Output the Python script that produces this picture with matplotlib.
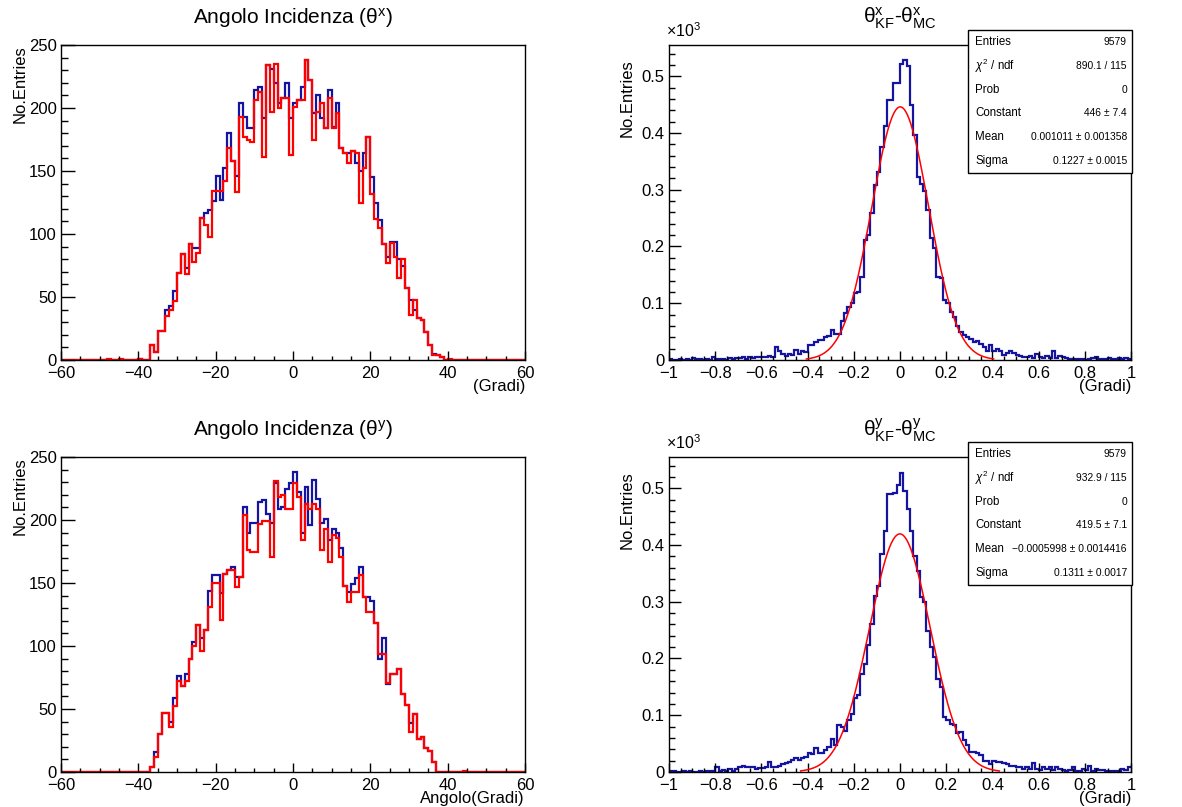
import numpy as np
import matplotlib
matplotlib.use("Agg")
import matplotlib.pyplot as plt
from matplotlib.patches import Rectangle
from matplotlib.ticker import MultipleLocator, FuncFormatter

plt.rcParams["font.family"] = ["Liberation Sans", "DejaVu Sans"]
plt.rcParams["mathtext.fontset"] = "custom"
plt.rcParams["mathtext.rm"] = "Liberation Sans"
plt.rcParams["mathtext.it"] = "Liberation Sans:italic"
plt.rcParams["mathtext.bf"] = "Liberation Sans:bold"

# ---- angle histograms: 1 degree bins, counts listed from -40 to 39 ----
ang_edges = np.arange(-60, 61, 1)
ang_first = -40

thx_mc = [1, 0, 0, 12, 6, 23, 23, 40, 43, 55,
          69, 84, 73, 92, 89, 89, 113, 117, 119, 126,
          146, 127, 152, 180, 158, 146, 204, 193, 184, 184,
          214, 217, 192, 234, 231, 220, 204, 208, 220, 192,
          204, 206, 217, 238, 222, 196, 210, 192, 184, 214,
          185, 204, 168, 164, 164, 166, 156, 150, 164, 177,
          145, 125, 111, 92, 82, 94, 94, 80, 75, 57,
          48, 40, 33, 32, 22, 12, 5, 4, 2, 0]
thx_kf = [1, 0, 0, 12, 6, 23, 23, 35, 40, 47,
          69, 84, 68, 92, 78, 85, 113, 107, 98, 134,
          134, 134, 142, 168, 158, 133, 193, 177, 175, 173,
          206, 213, 161, 234, 197, 235, 200, 208, 208, 163,
          201, 206, 206, 238, 222, 175, 197, 204, 184, 208,
          184, 196, 168, 164, 156, 166, 164, 125, 152, 177,
          132, 112, 105, 92, 77, 93, 82, 65, 80, 57,
          36, 48, 33, 32, 22, 12, 4, 4, 2, 0]
thx_kf_extra = {-48: 1, -45: 1, 40: 1}

thy_mc = [0, 0, 0, 4, 16, 30, 47, 47, 40, 59,
          76, 68, 78, 90, 103, 117, 106, 113, 144, 156,
          156, 142, 157, 160, 163, 155, 155, 210, 190, 198,
          198, 214, 216, 205, 198, 229, 209, 210, 225, 229,
          238, 222, 190, 226, 196, 232, 217, 198, 201, 184,
          193, 190, 178, 148, 143, 149, 154, 163, 139, 139,
          136, 118, 90, 106, 70, 78, 78, 82, 62, 53,
          39, 46, 26, 28, 19, 17, 8, 0, 0, 0]
thy_kf = [0, 0, 0, 4, 12, 30, 47, 47, 36, 52,
          72, 68, 72, 90, 100, 117, 96, 113, 131, 150,
          150, 121, 157, 160, 160, 147, 155, 204, 176, 175,
          175, 197, 199, 199, 171, 231, 218, 220, 209, 209,
          229, 218, 184, 213, 209, 213, 209, 176, 193, 167,
          188, 186, 171, 148, 135, 143, 143, 156, 139, 127,
          127, 118, 94, 94, 71, 78, 78, 82, 62, 53,
          32, 46, 26, 28, 19, 17, 8, 0, 0, 0]
thy_kf_extra = {44: 1}

# ---- residual histograms: 140 bins from -1 to 1 ----
res_edges = np.linspace(-1, 1, 141)
dthx = [1, 0, 0, 1, 0, 1, 0, 3, 1, 2,
        0, 1, 0, 5, 1, 2, 1, 0, 4, 2,
        4, 4, 6, 2, 5, 3, 6, 5, 6, 6,
        7, 6, 23, 16, 10, 7, 10, 9, 18, 11,
        15, 14, 26, 26, 32, 35, 36, 41, 43, 53,
        45, 45, 68, 82, 94, 100, 118, 120, 147, 212,
        220, 259, 309, 332, 376, 413, 458, 458, 488, 488,
        522, 528, 518, 450, 397, 323, 310, 297, 265, 215,
        197, 147, 145, 106, 100, 85, 75, 60, 50, 44,
        40, 37, 32, 33, 29, 23, 15, 26, 15, 20,
        15, 9, 12, 15, 12, 9, 7, 5, 5, 7,
        3, 10, 5, 3, 7, 3, 15, 3, 7, 5,
        3, 1, 1, 2, 1, 1, 0, 1, 3, 5,
        1, 1, 2, 4, 1, 1, 3, 1, 4, 1]
dthy = [1, 1, 0, 0, 1, 0, 1, 0, 0, 1,
        0, 2, 1, 1, 8, 2, 3, 2, 5, 2,
        5, 9, 10, 8, 8, 8, 6, 7, 7, 8,
        18, 8, 8, 10, 14, 16, 18, 21, 24, 21,
        24, 27, 33, 32, 42, 33, 33, 38, 44, 58,
        48, 82, 80, 72, 92, 102, 130, 135, 173, 191,
        223, 261, 310, 328, 384, 425, 489, 489, 492, 506,
        527, 495, 463, 425, 381, 354, 308, 300, 249, 220,
        202, 164, 150, 97, 91, 85, 82, 68, 70, 56,
        47, 36, 35, 33, 30, 20, 20, 14, 20, 18,
        17, 16, 14, 10, 10, 8, 8, 6, 8, 6,
        16, 6, 3, 8, 6, 8, 4, 8, 6, 4,
        2, 3, 8, 2, 2, 6, 3, 10, 2, 6,
        3, 4, 2, 2, 2, 2, 2, 5, 4, 9]

# gaussian fit results (Constant, Mean, Sigma) and fit range
fit_x = (446.0, 0.001011, 0.1227)
fit_y = (419.5, -0.0005998, 0.1311)
fit_range_x = (-0.405, 0.405)
fit_range_y = (-0.43, 0.43)

stats_x = [("Entries", "9579"), ("$\\chi^{2}$ / ndf", "890.1 / 115"), ("Prob", "0"),
           ("Constant", "446 ± 7.4"), ("Mean", "0.001011 ± 0.001358"),
           ("Sigma", "0.1227 ± 0.0015")]
stats_y = [("Entries", "9579"), ("$\\chi^{2}$ / ndf", "932.9 / 115"), ("Prob", "0"),
           ("Constant", "419.5 ± 7.1"), ("Mean", "\u22120.0005998 ± 0.0014416"),
           ("Sigma", "0.1311 ± 0.0017")]

BLUE = "#1414a0"
RED = "#ff0000"
W, H = 1182, 807

fig = plt.figure(figsize=(W / 100, H / 100), dpi=100)


def px_axes(x0, y0, x1, y1):
    return fig.add_axes([x0 / W, 1 - y1 / H, (x1 - x0) / W, (y1 - y0) / H])


def full_counts(vals, extra):
    c = np.zeros(len(ang_edges) - 1)
    i0 = ang_first - ang_edges[0]
    c[i0:i0 + len(vals)] = vals
    for k, v in extra.items():
        c[k - ang_edges[0]] = v
    return c


def num_fmt(v, p):
    v = round(v, 6)
    if v == 0:
        return "0"
    return f"{v:g}".replace("-", "\u2212")


def style_axes(ax, xmaj, xmin, ymaj, ymin, ytick_len):
    ax.xaxis.set_major_locator(MultipleLocator(xmaj))
    ax.xaxis.set_minor_locator(MultipleLocator(xmin))
    ax.yaxis.set_major_locator(MultipleLocator(ymaj))
    ax.yaxis.set_minor_locator(MultipleLocator(ymin))
    ax.xaxis.set_major_formatter(FuncFormatter(num_fmt))
    ax.tick_params(axis="x", which="major", direction="in", length=6.5, width=1, labelsize=12, pad=4)
    ax.tick_params(axis="x", which="minor", direction="in", length=3.2, width=1)
    ax.tick_params(axis="y", which="major", direction="in", length=ytick_len, width=1, labelsize=12, pad=3)
    ax.tick_params(axis="y", which="minor", direction="in", length=ytick_len / 2, width=1)
    for s in ax.spines.values():
        s.set_linewidth(1.0)


def angle_panel(box, mc, kf, title, xlabel):
    ax = px_axes(*box)
    ax.stairs(mc, ang_edges, color=BLUE, lw=1.6, baseline=None)
    ax.stairs(kf, ang_edges, color=RED, lw=1.6, baseline=None)
    ax.set_xlim(-60, 60)
    ax.set_ylim(0, 250)
    style_axes(ax, 20, 5, 50, 10, 10)
    x0, y0, x1, y1 = box
    fig.text((x0 + x1) / 2 / W, 1 - (y0 - 27) / H, title,
             ha="center", va="center", fontsize=15)
    fig.text(x1 / W, 1 - (y1 + 26) / H, xlabel, ha="right", va="center", fontsize=12)
    fig.text(20 / W, 1 - y0 / H, "No.Entries", rotation=90, ha="center", va="top", fontsize=12)
    return ax


def resid_panel(box, counts, fit, frange, title, stats):
    ax = px_axes(*box)
    ax.stairs(counts, res_edges, color=BLUE, lw=1.6, baseline=None)
    const, mean, sigma = fit
    xx = np.linspace(frange[0], frange[1], 400)
    ax.plot(xx, const * np.exp(-0.5 * ((xx - mean) / sigma) ** 2), color=RED, lw=1.1)
    ax.set_xlim(-1, 1)
    ax.set_ylim(0, 555)
    style_axes(ax, 0.2, 0.05, 100, 20, 8.5)
    ax.yaxis.set_major_formatter(FuncFormatter(lambda v, p: num_fmt(v / 1000, p)))
    x0, y0, x1, y1 = box
    fig.text((x0 + x1) / 2 / W, 1 - (y0 - 27) / H, title, ha="center", va="center", fontsize=15)
    fig.text(x1 / W, 1 - (y1 + 26) / H, "(Gradi)", ha="right", va="center", fontsize=12)
    fig.text(627 / W, 1 - (y0 + 14) / H, "No.Entries", rotation=90, ha="center", va="top", fontsize=12)
    fig.text((x0 - 3) / W, 1 - (y0 - 8) / H, "$\\times$10$^{3}$", ha="left", va="baseline", fontsize=11.5)

    # stat box
    bx0, bx1 = 968, 1132
    by0 = y0 - 15
    by1 = by0 + 143
    fig.add_artist(Rectangle((bx0 / W, 1 - by1 / H), (bx1 - bx0) / W, (by1 - by0) / H,
                             transform=fig.transFigure, facecolor="white", edgecolor="black",
                             lw=1.0, zorder=5))
    row_h = (by1 - by0) / len(stats)
    for i, (lab, val) in enumerate(stats):
        yc = by0 + row_h * (i + 0.5)
        fig.text((bx0 + 7) / W, 1 - yc / H, lab, ha="left", va="center", fontsize=8.3, zorder=6)
        fig.text((bx1 - 5) / W, 1 - yc / H, val, ha="right", va="center", fontsize=7.4, zorder=6)
    return ax


angle_panel((61, 45, 525, 360), full_counts(thx_mc, {}), full_counts(thx_kf, thx_kf_extra),
            "Angolo Incidenza (θ$^{\\mathrm{x}}$)", "(Gradi)")
angle_panel((61, 457, 525, 772), full_counts(thy_mc, {}), full_counts(thy_kf, thy_kf_extra),
            "Angolo Incidenza (θ$^{\\mathrm{y}}$)", "Angolo(Gradi)")
resid_panel((669, 45, 1131, 360), dthx, fit_x, fit_range_x,
            "θ$^{\\mathrm{x}}_{\\mathrm{KF}}$-θ$^{\\mathrm{x}}_{\\mathrm{MC}}$", stats_x)
resid_panel((669, 457, 1131, 772), dthy, fit_y, fit_range_y,
            "θ$^{\\mathrm{y}}_{\\mathrm{KF}}$-θ$^{\\mathrm{y}}_{\\mathrm{MC}}$", stats_y)

fig.savefig("out.png", dpi=100)
